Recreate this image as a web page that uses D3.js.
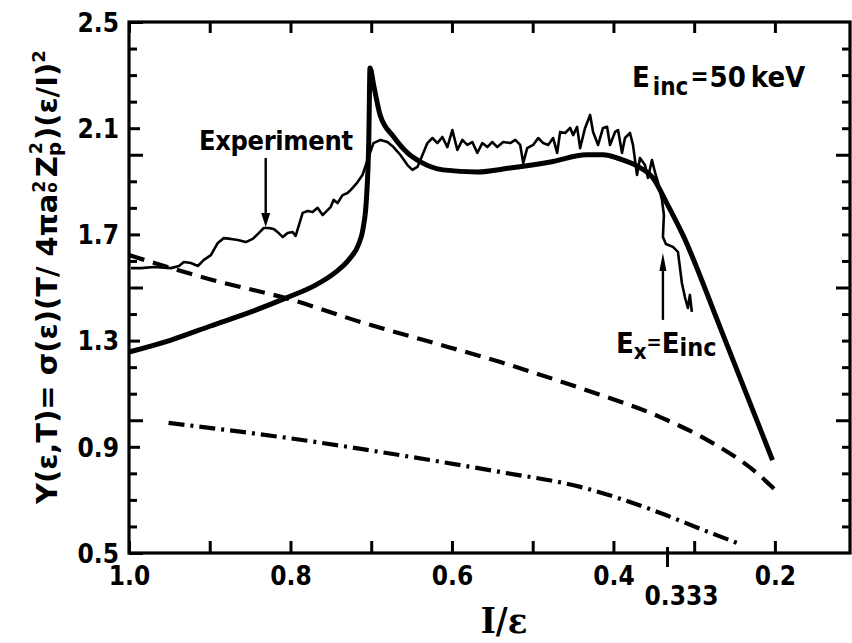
<!DOCTYPE html>
<html><head><meta charset="utf-8">
<script src="https://cdn.jsdelivr.net/npm/d3@7"></script>
<style>body{margin:0;background:#fff} svg{display:block}
text{font-family:"DejaVu Sans Condensed","Liberation Sans Narrow","DejaVu Sans",sans-serif;font-stretch:condensed;font-weight:bold;fill:#000}
</style>
</head><body>
<svg id="c" width="852" height="643"></svg>
<script>
// ---- data ----
const xTickValues = [1.0, 0.9, 0.8, 0.7, 0.6, 0.5, 0.4, 0.3, 0.2];
const xLabelValues = [1.0, 0.8, 0.6, 0.4, 0.2];
const xSpecialTick = 0.333;
const yTickValues = [0.5,0.6,0.7,0.8,0.9,1.0,1.1,1.2,1.3,1.4,1.5,1.6,1.7,1.8,1.9,2.0,2.1,2.2,2.3,2.4,2.5];
const yLabelValues = [0.5, 0.9, 1.3, 1.7, 2.1, 2.5];

// theory (solid)
const theoryX = [1.0,0.948,0.899,0.849,0.806,0.769,0.744,0.726,0.716,0.710,0.706,0.703,0.7015,0.697,0.689,0.672,0.655,0.639,0.611,0.569,0.528,0.478,0.433,0.413,0.392,0.371,0.351,0.334,0.314,0.268,0.203];
const theoryY = [1.257,1.302,1.355,1.408,1.460,1.509,1.558,1.611,1.660,1.724,1.830,2.056,2.327,2.263,2.150,2.067,2.007,1.973,1.943,1.935,1.950,1.973,2.000,2.000,1.984,1.958,1.912,1.818,1.698,1.351,0.850];

// dashed
const dashX = [1.0,0.899,0.8,0.713,0.635,0.54,0.441,0.342,0.277,0.227,0.197];
const dashY = [1.622,1.530,1.455,1.370,1.302,1.219,1.121,1.012,0.914,0.813,0.730];

// dash-dot
const dotX = [0.951,0.803,0.627,0.54,0.441,0.342,0.289,0.247];
const dotY = [0.990,0.933,0.850,0.805,0.749,0.651,0.587,0.538];

// experiment
const expX = [0.9975,0.9852,0.9691,0.9481,0.9382,0.9320,0.9234,0.9147,0.9073,0.8986,0.8900,0.8826,0.8739,0.8653,0.8554,0.8467,0.8393,0.8331,0.8269,0.8208,0.8146,0.8096,0.8035,0.7973,0.7936,0.7849,0.7787,0.7726,0.7664,0.7602,0.7565,0.7503,0.7466,0.7417,0.7355,0.7293,0.7256,0.7219,0.7169,0.7108,0.7046,0.6972,0.6885,0.6799,0.6724,0.6638,0.6551,0.6490,0.6428,0.6391,0.6304,0.6242,0.6180,0.6119,0.6057,0.5995,0.5933,0.5871,0.5810,0.5748,0.5686,0.5624,0.5562,0.5501,0.5439,0.5365,0.5278,0.5216,0.5155,0.5117,0.5068,0.4994,0.4932,0.4870,0.4808,0.4747,0.4697,0.4660,0.4598,0.4536,0.4499,0.4450,0.4413,0.4351,0.4289,0.4252,0.4190,0.4129,0.4079,0.4042,0.3980,0.3943,0.3894,0.3857,0.3795,0.3758,0.3708,0.3671,0.3609,0.3572,0.3523,0.3486,0.3449,0.3399,0.3375,0.3387,0.3350,0.3263,0.3201,0.3177,0.3152,0.3115,0.3078,0.3053,0.3029];
const expY = [1.573,1.573,1.577,1.573,1.581,1.596,1.592,1.581,1.604,1.622,1.668,1.686,1.683,1.679,1.671,1.683,1.705,1.724,1.724,1.720,1.705,1.690,1.705,1.709,1.694,1.781,1.788,1.784,1.800,1.773,1.784,1.803,1.830,1.818,1.848,1.856,1.867,1.879,1.897,1.924,1.980,2.044,2.056,2.048,2.029,1.999,1.961,1.943,1.954,1.980,2.044,2.063,2.044,2.067,2.029,2.093,2.018,2.056,2.037,2.048,2.007,2.044,2.029,2.048,2.029,2.048,2.044,2.056,2.037,1.969,2.025,2.037,2.063,2.044,2.037,2.063,2.007,2.086,2.082,2.101,2.074,2.105,2.025,2.101,2.150,2.086,2.037,2.101,2.105,2.037,2.086,2.093,2.007,2.063,2.082,2.037,1.924,1.988,1.961,1.913,1.980,1.935,1.897,1.830,1.773,1.690,1.664,1.653,1.634,1.577,1.517,1.464,1.423,1.472,1.408];

// ---- drawing ----
const svg = d3.select("#c");
const x = d3.scaleLinear().domain([1.0, 0.107]).range([129, 850]);
const y = d3.scaleLinear().domain([0.5, 2.5]).range([553, 22]);
const xL = x(1.0), xR = x(0.107), yB = y(0.5), yT = y(2.5);

const zip = (a, b) => a.map((v, i) => [v, b[i]]);
const lineSmooth = d3.line().x(d => x(d[0])).y(d => y(d[1])).curve(d3.curveMonotoneX);
const lineRaw = d3.line().x(d => x(d[0])).y(d => y(d[1]));

// axes
const isHalf = v => Math.abs(v * 2 - Math.round(v * 2)) < 1e-6;
const isLab = v => yLabelValues.some(l => Math.abs(l - v) < 1e-6);

const gB = svg.append("g").attr("transform", `translate(0,${yB})`)
  .call(d3.axisBottom(x).tickValues(xTickValues).tickSize(-12).tickPadding(14)
    .tickFormat(v => xLabelValues.some(l => Math.abs(l - v) < 1e-6) ? d3.format(".1f")(v) : ""));
gB.selectAll("text").attr("font-size", 26).attr("font-family", null);
const gT = svg.append("g").attr("transform", `translate(0,${yT})`)
  .call(d3.axisTop(x).tickValues(xTickValues).tickSize(-11).tickFormat(""));
const gLf = svg.append("g").attr("transform", `translate(${xL},0)`)
  .call(d3.axisLeft(y).tickValues(yTickValues).tickSize(-8).tickPadding(10)
    .tickFormat(v => isLab(v) ? d3.format(".1f")(v) : ""));
gLf.selectAll(".tick line").attr("x2", v => isHalf(v) ? 14 : (isLab(v) ? 11 : 8));
gLf.selectAll("text").attr("font-size", 26).attr("font-family", null).attr("dy", "0.36em");
const gR = svg.append("g").attr("transform", `translate(${xR},0)`)
  .call(d3.axisRight(y).tickValues(yTickValues.filter(v => v > 0.55 && v < 2.45)).tickSize(-8).tickFormat(""));
gR.selectAll(".tick line").attr("x2", v => isHalf(v) ? -14 : -8);
[gB, gT, gLf, gR].forEach(g => {
  g.select(".domain").remove();
  g.selectAll(".tick line").attr("stroke", "#000").attr("stroke-width", 3);
});

// frame
svg.append("rect").attr("x", xL).attr("y", yT).attr("width", xR - xL).attr("height", yB - yT)
  .attr("fill", "none").attr("stroke", "#000").attr("stroke-width", 3.2);

// special 0.333 tick
svg.append("line").attr("x1", x(xSpecialTick)).attr("x2", x(xSpecialTick))
  .attr("y1", yB - 6).attr("y2", yB + 14).attr("stroke", "#000").attr("stroke-width", 3);
svg.append("text").attr("x", x(xSpecialTick) + 14).attr("y", yB + 52).attr("text-anchor", "middle")
  .attr("font-size", 26).text("0.333");

// curves
svg.append("path").attr("d", lineSmooth(zip(dotX, dotY))).attr("fill", "none").attr("stroke", "#000")
  .attr("stroke-width", 4.2).attr("stroke-dasharray", "16,6,3,6").attr("stroke-linecap", "butt");
svg.append("path").attr("d", lineSmooth(zip(dashX, dashY))).attr("fill", "none").attr("stroke", "#000")
  .attr("stroke-width", 4.2).attr("stroke-dasharray", "16,9");
svg.append("path").attr("d", lineRaw(zip(expX, expY))).attr("fill", "none").attr("stroke", "#000")
  .attr("stroke-width", 2.6).attr("stroke-linejoin", "round");
svg.append("path").attr("d", lineSmooth(zip(theoryX, theoryY))).attr("fill", "none").attr("stroke", "#000")
  .attr("stroke-width", 5).attr("stroke-linejoin", "round");

// arrows
function arrow(xv, yFrom, yTo, hw, hl, sw) {
  const px = x(xv), p0 = y(yFrom), p1 = y(yTo);
  const dir = Math.sign(p1 - p0);
  svg.append("line").attr("x1", px).attr("x2", px).attr("y1", p0).attr("y2", p1 - dir * hl * 0.6)
    .attr("stroke", "#000").attr("stroke-width", sw);
  svg.append("path").attr("d", `M${px},${p1} L${px - hw},${p1 - dir * hl} L${px + hw},${p1 - dir * hl} Z`).attr("fill", "#000");
}
arrow(0.8307, 1.988, 1.728, 4.5, 14, 2.4);
arrow(0.3387, 1.378, 1.630, 3.5, 18, 2.4);

// annotations
svg.append("text").attr("x", 199).attr("y", 150).attr("font-size", 27).attr("textLength", 154).text("Experiment");
const t1 = svg.append("text").attr("x", 632).attr("y", 87).attr("font-size", 29);
t1.append("tspan").text("E");
t1.append("tspan").attr("dy", 8).attr("dx", 3).attr("font-size", 24).text("inc");
t1.append("tspan").attr("dy", -10).attr("dx", 2).attr("font-size", 24).text("=");
t1.append("tspan").attr("dy", 2).attr("dx", 1).text("50");
t1.append("tspan").attr("dx", 5).text("keV");
const t2 = svg.append("text").attr("x", 616).attr("y", 353).attr("font-size", 29);
t2.append("tspan").text("E");
t2.append("tspan").attr("dy", 6).attr("font-size", 22).text("x");
t2.append("tspan").attr("dy", -10).attr("font-size", 20).text("=");
t2.append("tspan").attr("dy", 4).text("E");
t2.append("tspan").attr("dy", 3).attr("font-size", 25).text("inc");

// x title
svg.append("text").attr("x", 504).attr("y", 633).attr("text-anchor", "middle")
  .style("font-family", "'DejaVu Serif', serif").attr("font-size", 36).attr("font-weight", "bold").text("I/ε");

// y title: fixed glyph size, stretched along reading direction to reference length
function buildYTitle(sx) {
  svg.selectAll(".ytitle").remove();
  const yt = svg.append("text").attr("class", "ytitle")
    .attr("transform", `translate(57,504) rotate(-90) scale(${sx},1)`).attr("font-size", 29);
  yt.append("tspan").text("Y(ε,T)= σ(ε)(T/ 4πa");
  yt.append("tspan").attr("dx", 1).attr("font-size", 15).text("o");
  yt.append("tspan").attr("dx", -9).attr("dy", -12).attr("font-size", 17).text("2");
  yt.append("tspan").attr("dx", 3).attr("dy", 12).text("Z");
  yt.append("tspan").attr("dy", 4).attr("font-size", 20).text("p");
  yt.append("tspan").attr("dx", -11).attr("dy", -19).attr("font-size", 17).text("2");
  yt.append("tspan").attr("dx", 2).attr("dy", 15).text(")(ε/I)");
  yt.append("tspan").attr("dy", -12).attr("font-size", 18).text("2");
  return yt;
}
const yt0 = buildYTitle(1);
const len = yt0.node().getBBox().width;
buildYTitle(455 / len);
</script>
</body></html>
